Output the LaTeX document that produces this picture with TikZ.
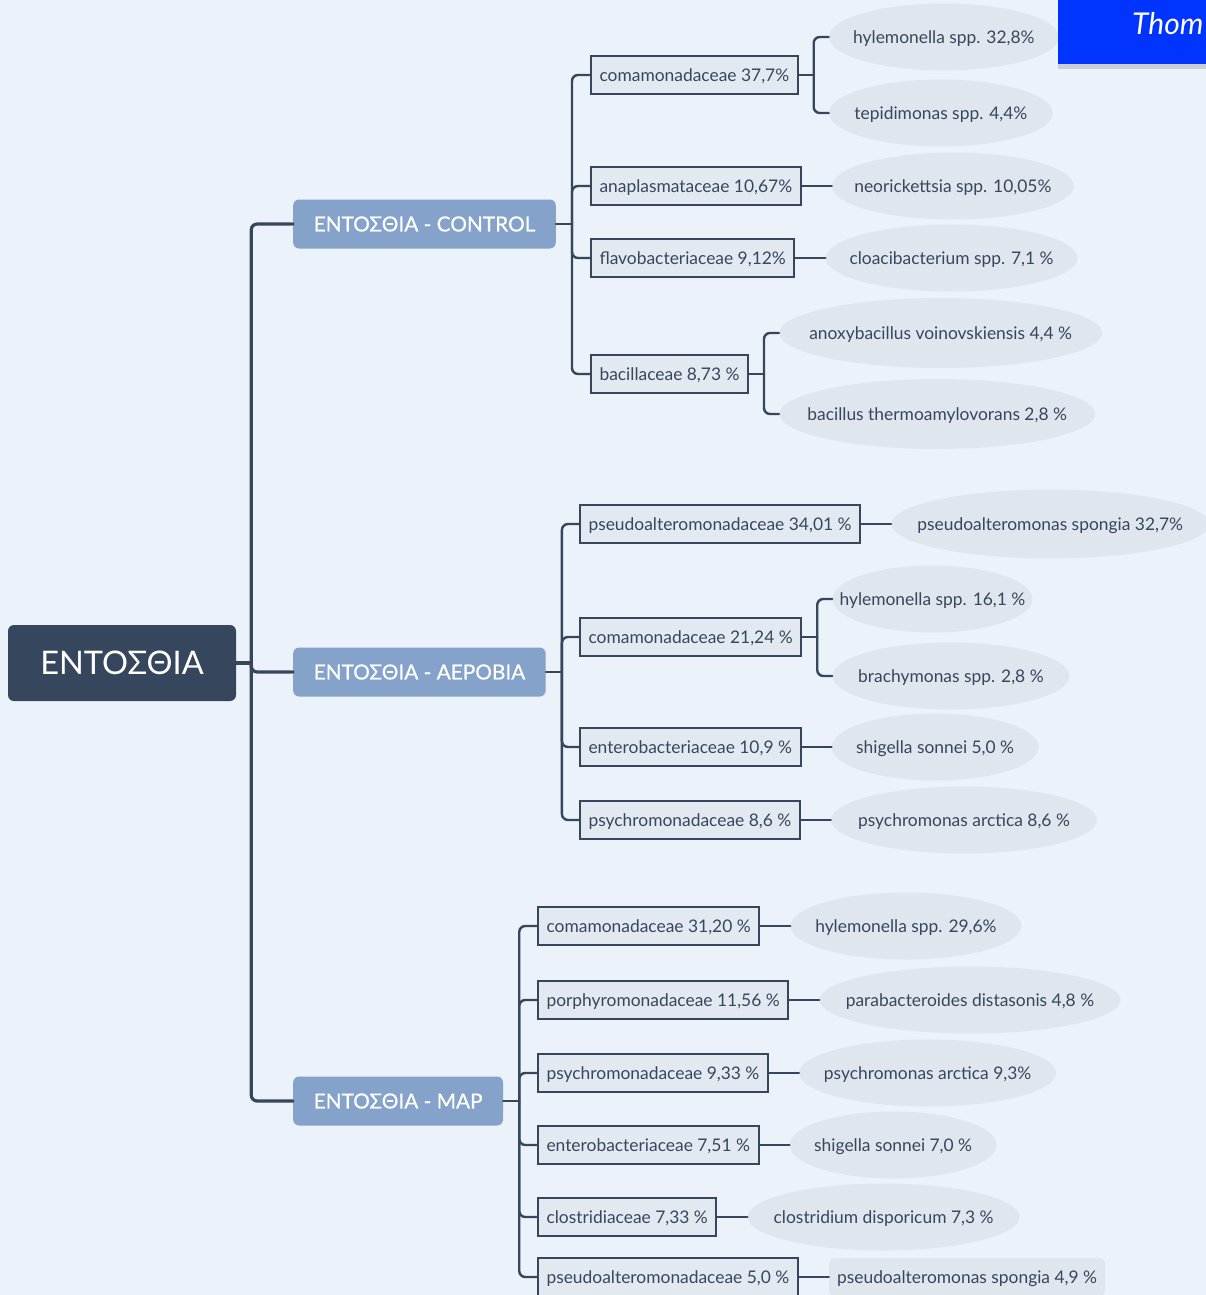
\documentclass[tikz,border=0pt]{standalone}
\usepackage{fontspec}
\setmainfont{Lato}
\newfontfamily\heavylato[FakeBold=0.6]{Lato}
\usetikzlibrary{positioning,shapes.geometric,shadows}
\definecolor{pagebg}{RGB}{235,242,250}
\definecolor{slate}{RGB}{54,70,93}
\definecolor{groupblue}{RGB}{133,162,202}
\definecolor{famfill}{RGB}{227,233,241}
\definecolor{sppfill}{RGB}{224,230,238}
\definecolor{noteblue}{RGB}{2,52,255}
\newcommand{\spname}[1]{\makebox[0pt]{#1}}
\tikzset{
  rootbox/.style={
    fill=slate,
    text=white,
    rounded corners=6pt,
    minimum width=228pt,
    minimum height=76pt,
    font=\fontsize{32.5}{38}\selectfont
  },
  group/.style={
    fill=groupblue,
    text=white,
    rounded corners=6pt,
    minimum height=49pt,
    inner xsep=20.5pt,
    font=\heavylato\fontsize{20.8}{24}\selectfont
  },
  family/.style={
    draw=slate,
    line width=2pt,
    fill=famfill,
    text=slate,
    minimum height=38pt,
    inner xsep=8.5pt,
    text height=15.5pt,
    text depth=2.5pt,
    font=\fontsize{17.4}{20}\selectfont
  },
  species/.style={
    ellipse,
    fill=sppfill,
    text=slate,
    inner sep=0pt,
    minimum height=67pt,
    text height=15.5pt,
    text depth=2.5pt,
    font=\fontsize{17.4}{20}\selectfont
  },
  spbox/.style={
    fill=sppfill,
    text=slate,
    rounded corners=6pt,
    minimum height=38pt,
    inner xsep=8pt,
    text height=15.5pt,
    text depth=2.5pt,
    font=\fontsize{17.4}{20}\selectfont
  },
  note/.style={
    fill=noteblue,
    text=white,
    inner xsep=74pt,
    inner ysep=29pt,
    drop shadow={shadow xshift=0pt, shadow yshift=-5pt, opacity=0.3},
    font=\fontsize{30}{34}\selectfont\itshape
  },
  link/.style={draw=slate, line width=2.4pt, rounded corners=6pt, line cap=round},
  trunk/.style={link, line width=3.2pt}
}

\begin{document}
\begin{tikzpicture}[x=1pt, y=-1pt, node distance=30pt]
        \fill[pagebg] (0,0) rectangle (1206,1295);
        \useasboundingbox (0,0) rectangle (1206,1295);
        \node[rootbox] (root) at (122,663) {ΕΝΤΟΣΘΙΑ};
        \node[group, anchor=west] (ctrl) at (293,224) {ΕΝΤΟΣΘΙΑ - CONTROL};
        \node[group, anchor=west] (aer) at (293,672) {ΕΝΤΟΣΘΙΑ - ΑΕΡΟΒΙΑ};
        \node[group, anchor=west] (map) at (293,1101) {ΕΝΤΟΣΘΙΑ - MAP};
        % control
        \node[family, anchor=west] (c1) at (590,75) {comamonadaceae 37,7\%};
        \node[family, anchor=west] (c2) at (590,186) {anaplasmataceae 10,67\%};
        \node[family, anchor=west] (c3) at (590,258) {flavobacteriaceae 9,12\%};
        \node[family, anchor=west] (c4) at (590,374) {bacillaceae 8,73 \%};
        \node[species, minimum width=230pt, right=of c1, yshift=38pt] (c1a) {\spname{hylemonella spp. 32,8\%}};
        \node[species, minimum width=224pt, right=of c1, yshift=-38pt] (c1b) {\spname{tepidimonas spp. 4,4\%}};
        \node[species, minimum width=242pt, right=of c2] (c2a) {\spname{neorickettsia spp. 10,05\%}};
        \node[species, minimum width=252pt, right=of c3] (c3a) {\spname{cloacibacterium spp. 7,1 \%}};
        \node[species, minimum width=323pt, minimum height=70pt, right=of c4, yshift=41pt] (c4a) {\spname{anoxybacillus voinovskiensis 4,4 \%}};
        \node[species, minimum width=316pt, minimum height=70pt, right=of c4, yshift=-40pt] (c4b) {\spname{bacillus thermoamylovorans 2,8 \%}};
        % aerobia
        \node[family, anchor=west] (a1) at (579,524) {pseudoalteromonadaceae 34,01 \%};
        \node[family, anchor=west] (a2) at (579,637) {comamonadaceae 21,24 \%};
        \node[family, anchor=west] (a3) at (579,747) {enterobacteriaceae 10,9 \%};
        \node[family, anchor=west] (a4) at (579,820) {psychromonadaceae 8,6 \%};
        \node[species, minimum width=318pt, minimum height=69pt, right=of a1] (a1a) {\spname{pseudoalteromonas spongia 32,7\%}};
        \node[species, minimum width=200pt, right=of a2, yshift=38pt] (a2a) {\spname{hylemonella spp. 16,1 \%}};
        \node[species, minimum width=237pt, right=of a2, yshift=-39pt] (a2b) {\spname{brachymonas spp. 2,8 \%}};
        \node[species, minimum width=207pt, right=of a3] (a3a) {\spname{shigella sonnei 5,0 \%}};
        \node[species, minimum width=266pt, right=of a4] (a4a) {\spname{psychromonas arctica 8,6 \%}};
        % map
        \node[family, anchor=west] (m1) at (537,926) {comamonadaceae 31,20 \%};
        \node[family, anchor=west] (m2) at (537,1000) {porphyromonadaceae 11,56 \%};
        \node[family, anchor=west] (m3) at (537,1073) {psychromonadaceae 9,33 \%};
        \node[family, anchor=west] (m4) at (537,1145) {enterobacteriaceae 7,51 \%};
        \node[family, anchor=west] (m5) at (537,1217) {clostridiaceae 7,33 \%};
        \node[family, anchor=west] (m6) at (537,1277) {pseudoalteromonadaceae 5,0 \%};
        \node[species, minimum width=231pt, right=of m1] (m1a) {\spname{hylemonella spp. 29,6\%}};
        \node[species, minimum width=301pt, right=of m2] (m2a) {\spname{parabacteroides distasonis 4,8 \%}};
        \node[species, minimum width=257pt, right=of m3] (m3a) {\spname{psychromonas arctica 9,3\%}};
        \node[species, minimum width=207pt, right=of m4] (m4a) {\spname{shigella sonnei 7,0 \%}};
        \node[species, minimum width=272pt, right=of m5] (m5a) {\spname{clostridium disporicum 7,3 \%}};
        \node[spbox, right=of m6] (m6a) {pseudoalteromonas spongia 4,9 \%};
        % root links
        \draw[trunk] (root.east) -- ++(15,0);
        \draw[trunk] (root.east) ++(15,0) |- (ctrl.west);
        \draw[trunk] (root.east) ++(15,0) |- (aer.west);
        \draw[trunk] (root.east) ++(15,0) |- (map.west);
        % group links
        \draw[link] (ctrl.east) -- ++(16,0);
        \draw[link] (ctrl.east) ++(16,0) |- (c1.west);
        \draw[link] (ctrl.east) ++(16,0) |- (c2.west);
        \draw[link] (ctrl.east) ++(16,0) |- (c3.west);
        \draw[link] (ctrl.east) ++(16,0) |- (c4.west);
        \draw[link] (aer.east) -- ++(16,0);
        \draw[link] (aer.east) ++(16,0) |- (a1.west);
        \draw[link] (aer.east) ++(16,0) |- (a2.west);
        \draw[link] (aer.east) ++(16,0) |- (a3.west);
        \draw[link] (aer.east) ++(16,0) |- (a4.west);
        \draw[link] (map.east) -- ++(16,0);
        \draw[link] (map.east) ++(16,0) |- (m1.west);
        \draw[link] (map.east) ++(16,0) |- (m2.west);
        \draw[link] (map.east) ++(16,0) |- (m3.west);
        \draw[link] (map.east) ++(16,0) |- (m4.west);
        \draw[link] (map.east) ++(16,0) |- (m5.west);
        \draw[link] (map.east) ++(16,0) |- (m6.west);
        % species links
        \draw[link] (c1.east) -- ++(15,0);
        \draw[link] (c1.east) ++(15,0) |- (c1a.west);
        \draw[link] (c1.east) ++(15,0) |- (c1b.west);
        \draw[link] (c2) -- (c2a);
        \draw[link] (c3) -- (c3a);
        \draw[link] (c4.east) -- ++(15,0);
        \draw[link] (c4.east) ++(15,0) |- (c4a.west);
        \draw[link] (c4.east) ++(15,0) |- (c4b.west);
        \draw[link] (a1) -- (a1a);
        \draw[link] (a2.east) -- ++(15,0);
        \draw[link] (a2.east) ++(15,0) |- (a2a.west);
        \draw[link] (a2.east) ++(15,0) |- (a2b.west);
        \draw[link] (a3) -- (a3a);
        \draw[link] (a4) -- (a4a);
        \draw[link] (m1) -- (m1a);
        \draw[link] (m2) -- (m2a);
        \draw[link] (m3) -- (m3a);
        \draw[link] (m4) -- (m4a);
        \draw[link] (m5) -- (m5a);
        \draw[link] (m6) -- (m6a);
        % note on top
        \node[note, anchor=south west] (thom) at (1058,64) {Thom};
      \end{tikzpicture}
\end{document}
